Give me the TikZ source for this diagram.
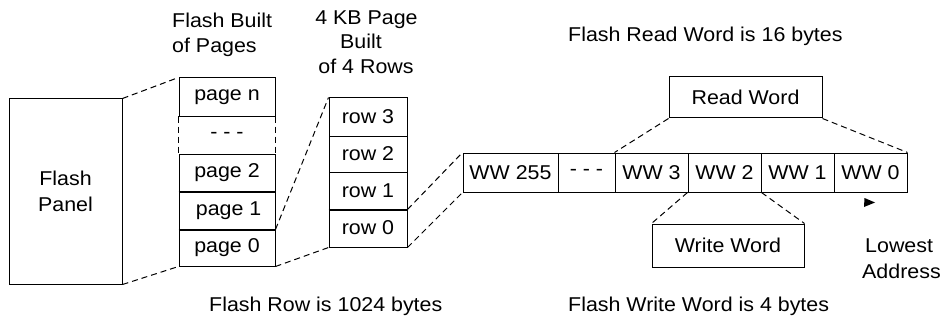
\documentclass[tikz,border=0pt]{standalone}
\usepackage{fontspec}
\setmainfont{Liberation Sans}[FakeStretch=1.07]
\begin{document}
\begin{tikzpicture}[x=1pt,y=-1pt,
  cell/.style={draw, line width=1pt, inner sep=0pt, font=\fontsize{20}{24}\selectfont},
  dashline/.style={dash pattern=on 6pt off 4pt, line width=1pt},
  thickline/.style={line width=2pt},
  lbl/.style={inner sep=0pt, font=\fontsize{20}{25}\selectfont}]
\useasboundingbox (0,0) rectangle (946,321);
% flash panel
\node[cell, minimum width=113pt, minimum height=185pt, align=center,
      font=\fontsize{20}{26}\selectfont] (panel) at (65.5,191.5) {Flash\\Panel};
% pages
\node[cell, minimum width=96pt, minimum height=39pt] (pn) at (227,97.5) {page n};
\node[cell, draw=none, minimum width=96pt, minimum height=37pt] (pd) at (227,135.5) {- - -};
\node[cell, minimum width=96pt, minimum height=38pt] (p2) at (227,173) {page 2};
\node[cell, minimum width=96pt, minimum height=37pt] (p1) at (227,210.5) {\,page 1};
\node[cell, minimum width=96pt, minimum height=37pt] (p0) at (227,247.5) {page 0};
\draw[dashline] (pd.north west) -- (pd.south west);
\draw[dashline] (pd.north east) -- (pd.south east);
\draw[thickline] (p1.north west) -- (p1.north east);
\draw[thickline] (p1.south west) -- (p1.south east);
% rows
\node[cell, minimum width=78pt, minimum height=38pt] (r3) at (368,117) {row 3};
\node[cell, minimum width=78pt, minimum height=36pt] (r2) at (368,154) {row 2};
\node[cell, minimum width=78pt, minimum height=37pt] (r1) at (368,190.5) {row 1};
\node[cell, minimum width=78pt, minimum height=38pt] (r0) at (368,228) {row 0};
\draw[thickline] (r1.south west) -- (r1.south east);
% words
\node[cell, minimum width=95pt, minimum height=39pt] (w255) at (510.5,172.5) {WW 255};
\node[cell, minimum width=57pt, minimum height=39pt] (wd) at (586.5,172.5) {- - -};
\node[cell, minimum width=73pt, minimum height=39pt] (w3) at (651.5,172.5) {WW 3};
\node[cell, minimum width=73pt, minimum height=39pt] (w2) at (724.5,172.5) {WW 2};
\node[cell, minimum width=73pt, minimum height=39pt] (w1) at (797.5,172.5) {WW 1};
\node[cell, minimum width=73pt, minimum height=39pt] (w0) at (870.5,172.5) {WW 0};
% read / write word
\node[cell, minimum width=153pt, minimum height=41pt] (rw) at (745.5,97.5) {Read Word};
\node[cell, minimum width=152pt, minimum height=43pt] (ww) at (728,245.5) {Write Word};
% dashed connectors
\draw[dashline] (panel.north east) -- (pn.north west);
\draw[dashline] (panel.south east) -- (p0.south west);
\draw[dashline] (p1.south east) -- (r3.north west);
\draw[dashline] (p0.south east) -- (r0.south west);
\draw[dashline] (r1.south east) -- (w255.north west);
\draw[dashline] (r0.south east) -- (w255.south west);
\draw[dashline] (rw.south west) -- (w3.north west);
\draw[dashline] (rw.south east) -- (w0.north east);
\draw[dashline] (w2.south west) -- (ww.north west);
\draw[dashline] (w2.south east) -- (ww.north east);
% lowest address marker
\fill (864.5,198) -- (875,202.5) -- (864,207) -- cycle;
% labels
\node[lbl, anchor=base west] (t1a) at (172,28) {Flash Built};
\node[lbl, anchor=base west] (t1b) at (172,53) {of Pages};
\node[lbl, anchor=base] (t2a) at (366.5,25) {4 KB Page};
\node[lbl, anchor=base] (t2b) at (361,49) {Built};
\node[lbl, anchor=base] (t2c) at (366,74) {of 4 Rows};
\node[lbl, anchor=base west] (t3) at (568,41.5) {Flash Read Word is 16 bytes};
\node[lbl, anchor=base west] (t4) at (209,311.5) {Flash Row is 1024 bytes};
\node[lbl, anchor=base west] (t5) at (568,311.5) {Flash Write Word is 4 bytes};
\node[lbl, anchor=base west] (t6a) at (865,252) {Lowest};
\node[lbl, anchor=base west] (t6b) at (862,278) {Address};
\end{tikzpicture}
\end{document}
